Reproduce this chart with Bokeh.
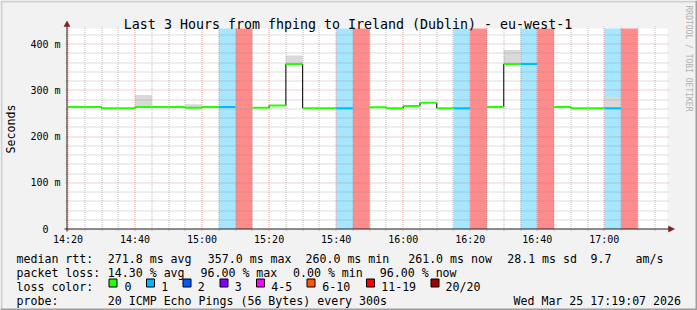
import math
from bokeh.plotting import figure
from bokeh.models import Range1d, FixedTicker, Label
from bokeh.core.properties import value
from bokeh.embed import file_html
from bokeh.resources import INLINE

# ---------------- data ----------------
bin_start = ["14:20", "14:25", "14:30", "14:35", "14:40", "14:45", "14:50", "14:55",
             "15:00", "15:05", "15:10", "15:15", "15:20", "15:25", "15:30", "15:35",
             "15:40", "15:45", "15:50", "15:55", "16:00", "16:05", "16:10", "16:15",
             "16:20", "16:25", "16:30", "16:35", "16:40", "16:45", "16:50", "16:55",
             "17:00", "17:05"]
median_ms = [264, 264, 261, 261, 264, 264, 264, 262,
             264, 264, None, 262, 267, 357, 261, 261,
             261, None, 263, 261, 266, 273, 261, 261,
             None, 264, 357, 357, None, 264, 261, 261,
             261, None]
loss_pings = [0, 0, 0, 0, 0, 0, 0, 0,
              0, 1, 19, 0, 0, 0, 0, 0,
              1, 19, 0, 0, 0, 0, 0, 1,
              19, 0, 0, 1, 19, 0, 0, 0,
              1, 19]
smoke_max_ms = [None, None, None, None, 290, None, None, 270,
                None, None, None, None, None, 375, None, None,
                None, None, None, None, None, None, None, None,
                None, None, 387, None, None, None, None, None,
                286, None]
STEP_MIN = 5  # "every 300s"

x_tick_labels = ["14:20", "14:40", "15:00", "15:20", "15:40", "16:00", "16:20", "16:40", "17:00"]
y_tick_values = [0, 100, 200, 300, 400]
y_tick_labels = ["0\u00a0\u00a0", "100 m", "200 m", "300 m", "400 m"]

loss_legend_labels = ["0", "1", "2", "3", "4-5", "6-10", "11-19", "20/20"]
loss_legend_colors = ["#26ff00", "#00b8ff", "#0059ff", "#7e00ff", "#ff00ff", "#ff5500", "#ff0000", "#a00000"]
loss_legend_upper = [0, 1, 2, 3, 5, 10, 19, 20]

title_text = "Last 3 Hours from fhping to Ireland (Dublin) - eu-west-1"
stats_rtt = [("median rtt:", 16), ("271.8 ms avg", 107.3), ("357.0 ms max", 207.3),
             ("260.0 ms min", 305), ("261.0 ms now", 407.7), ("28.1 ms sd", 506.7),
             ("9.7", 590), ("am/s", 635)]
stats_loss = [("packet loss:", 16), ("14.30 % avg", 107.3), ("96.00 % max", 200),
              ("0.00 % min", 292.5), ("96.00 % now", 379.3)]
probe_text = "20 ICMP Echo Pings (56 Bytes) every 300s"
date_text = "Wed Mar 25 17:19:07 2026"

# ---------------- layout (canvas pixels) ----------------
W, H = 697, 310
X0_PX, PX_PER_MIN = 67.5, 3.352             # 14:20 position, scale
Y0_PX, PX_PER_MS = 228.5, 0.4625            # 0 ms position, scale
CANVAS_L, CANVAS_R, CANVAS_T = 67, 667, 28  # white graph area
MONO = "DejaVu Sans Mono"


def xd(px):
    return (px - X0_PX) / PX_PER_MIN


def yd(py):
    return (Y0_PX - py) / PX_PER_MS


def snap_x(m):
    return xd(math.floor(X0_PX + m * PX_PER_MIN) + 0.5)


def snap_y(v):
    return yd(math.floor(Y0_PX - v * PX_PER_MS) + 0.5)


def hm(s):
    h, m = s.split(":")
    return (int(h) - 14) * 60 + int(m) - 20


def loss_color(n):
    for up, c in zip(loss_legend_upper, loss_legend_colors):
        if n <= up:
            return c
    return loss_legend_colors[-1]


def lighten(hexc, a):
    r, g, b = int(hexc[1:3], 16), int(hexc[3:5], 16), int(hexc[5:7], 16)
    f = lambda v: int(round(v * a + 255 * (1 - a)))
    return "#%02x%02x%02x" % (f(r), f(g), f(b))


p = figure(width=W, height=H,
           x_range=Range1d(xd(0), xd(W)), y_range=Range1d(yd(H), yd(0)),
           output_backend="svg", toolbar_location=None,
           min_border=0, min_border_left=0, min_border_right=0,
           min_border_top=0, min_border_bottom=0,
           background_fill_color="#f2f2f2", border_fill_color="#f2f2f2",
           outline_line_color=None)
p.grid.visible = False

# axes drawn at fixed positions (labels only)
p.xaxis.fixed_location = yd(232)
p.yaxis.fixed_location = xd(62)
p.xaxis.ticker = FixedTicker(ticks=[hm(t) for t in x_tick_labels])
p.xaxis.major_label_overrides = {hm(t): t for t in x_tick_labels}
p.yaxis.ticker = FixedTicker(ticks=y_tick_values)
p.yaxis.major_label_overrides = {v: l for v, l in zip(y_tick_values, y_tick_labels)}
for ax in (p.xaxis, p.yaxis):
    ax.axis_line_color = None
    ax.major_tick_line_color = None
    ax.minor_tick_line_color = None
    ax.major_tick_out = 0
    ax.major_tick_in = 0
    ax.major_label_text_font = MONO
    ax.major_label_text_font_size = "10px"
    ax.major_label_text_color = "#000000"
p.xaxis.major_label_standoff = 1
p.yaxis.major_label_standoff = 2

# bevel border of the image
p.quad(left=[xd(0), xd(0), xd(0), xd(W - 2)], right=[xd(W), xd(2), xd(W), xd(W)],
       top=[yd(0), yd(0), yd(H - 2), yd(0)], bottom=[yd(2), yd(H), yd(H), yd(H)],
       fill_color=["#cfcfcf", "#cfcfcf", "#9e9e9e", "#9e9e9e"], line_color=None)

# white graph canvas
xl, xr, yt = xd(CANVAS_L), xd(CANVAS_R), yd(CANVAS_T)
p.quad(left=[xl], right=[xr], bottom=[0], top=[yt], fill_color="white", line_color=None)

xs0 = [hm(t) for t in bin_start]
xs1 = [x + STEP_MIN for x in xs0]

# loss background bands
bl, br, bc = [], [], []
for x0, x1, n in zip(xs0, xs1, loss_pings):
    if n > 0:
        bl.append(x0); br.append(x1)
        bc.append(lighten(loss_color(n), 0.45 if n >= 11 else 0.35))
p.quad(left=bl, right=br, bottom=0, top=yt, fill_color=bc, line_color=None)

# smoke
sl, sr, sb, st = [], [], [], []
for x0, x1, m, s in zip(xs0, xs1, median_ms, smoke_max_ms):
    if s is not None and m is not None:
        sl.append(x0); sr.append(x1); sb.append(m); st.append(s)
p.quad(left=sl, right=sr, bottom=sb, top=st, fill_color="#d9d9d9", line_color=None)

# grid (dotted, snapped to pixel centres)
pxx = 2 / PX_PER_MIN
pxy = 2 / PX_PER_MS
minor_v = [snap_x(m) for m in range(0, int(xr) + 1, 5) if m % 20 != 0]
major_v = [snap_x(m) for m in range(0, int(xr) + 1, 20)]
minor_h = [snap_y(v) for v in range(20, int(yt) + 1, 20) if v % 100 != 0]
major_h = [snap_y(v) for v in range(100, int(yt) + 1, 100)]
GRID = dict(line_width=1, line_dash="1 1")
p.segment(x0=minor_v, x1=minor_v, y0=-pxy, y1=yt + pxy, line_color="#8f8f8f", line_alpha=0.6, **GRID)
p.segment(x0=xl - pxx, x1=xr + pxx, y0=minor_h, y1=minor_h, line_color="#8f8f8f", line_alpha=0.6, **GRID)
p.segment(x0=major_v, x1=major_v, y0=-pxy, y1=yt + pxy, line_color="#de5050", line_alpha=0.55, **GRID)
p.segment(x0=xl - pxx, x1=xr + pxx, y0=major_h, y1=major_h, line_color="#de5050", line_alpha=0.55, **GRID)

# median: black connectors then loss-coloured steps
cx, cy0, cy1 = [], [], []
for k in range(len(median_ms) - 1):
    a, b = median_ms[k], median_ms[k + 1]
    if a is not None and b is not None and a != b:
        cx.append(xs1[k]); cy0.append(a); cy1.append(b)
p.segment(x0=cx, x1=cx, y0=cy0, y1=cy1, line_color="#000000", line_width=1)

ml, mr, mv, mc = [], [], [], []
for x0, x1, m, n in zip(xs0, xs1, median_ms, loss_pings):
    if m is not None:
        ml.append(x0); mr.append(x1); mv.append(m); mc.append(loss_color(n))
p.segment(x0=ml, x1=mr, y0=mv, y1=mv, line_color=mc, line_width=2)

# axis lines and arrows
p.segment(x0=[xd(64)], x1=[xd(669)], y0=[0], y1=[0], line_color="#1f1f1f", line_width=1)
p.segment(x0=[xd(66.5)], x1=[xd(66.5)], y0=[yd(231)], y1=[yd(25)], line_color="#1f1f1f", line_width=1)
p.patch(x=[xd(668), xd(668), xd(674)], y=[yd(225.5), yd(231.5), yd(228.5)],
        fill_color="#801f1f", line_color="#801f1f", line_width=0.5)
p.patch(x=[xd(63.5), xd(69.5), xd(66.5)], y=[yd(26), yd(26), yd(20.5)],
        fill_color="#801f1f", line_color="#801f1f", line_width=0.5)


def clabel(text, cx, cy, size="11.6px", align="left", baseline="alphabetic", angle=0, color="#000000"):
    p.add_layout(Label(x=cx, y=H - cy, x_units="screen", y_units="screen", text=text,
                       text_font=MONO, text_font_size=size, text_align=align,
                       text_baseline=baseline, angle=angle, text_color=color))


clabel(title_text, 347.5, 24, size="13.3px", align="center")
clabel("Seconds", 10.5, 128.5, size="11.6px", align="center", baseline="middle", angle=math.pi / 2)
clabel("RRDTOOL / TOBI OETIKER", 687.7, 5, size="8px", align="left", baseline="middle",
       angle=-math.pi / 2, color="#b0b0b0")

# ---------------- legend ----------------
TXT = dict(text_font=value(MONO), text_font_size="11.6px", text_color="#000000",
           text_baseline="alphabetic")
tx, ty, tt = [], [], []
for items, base in [(stats_rtt, 258), (stats_loss, 272)]:
    for t, x in items:
        tx.append(x); ty.append(base); tt.append(t)
tx += [16, 16, 107.3]
ty += [286, 300, 300]
tt += ["loss color:", "probe:", probe_text]
sq_x = [108.5, 146, 182.5, 219.5, 256, 306.5, 366, 430.5]
lab_x = [124, 160.7, 197.3, 234.3, 270.7, 321.7, 380.7, 445]
for lab, lx in zip(loss_legend_labels, lab_x):
    tx.append(lx); ty.append(286); tt.append(lab)
p.text(x=[xd(v) for v in tx], y=[yd(v) for v in ty], text=tt, text_align="left", **TXT)
p.text(x=[xd(680.5)], y=[yd(300)], text=[date_text], text_align="right", **TXT)
p.quad(left=[xd(s) for s in sq_x], right=[xd(s + 8) for s in sq_x],
       top=[yd(278.5)] * len(sq_x), bottom=[yd(286.5)] * len(sq_x),
       fill_color=loss_legend_colors, line_color="#000000", line_width=1)

open("out.html", "w").write(file_html(p, INLINE))
